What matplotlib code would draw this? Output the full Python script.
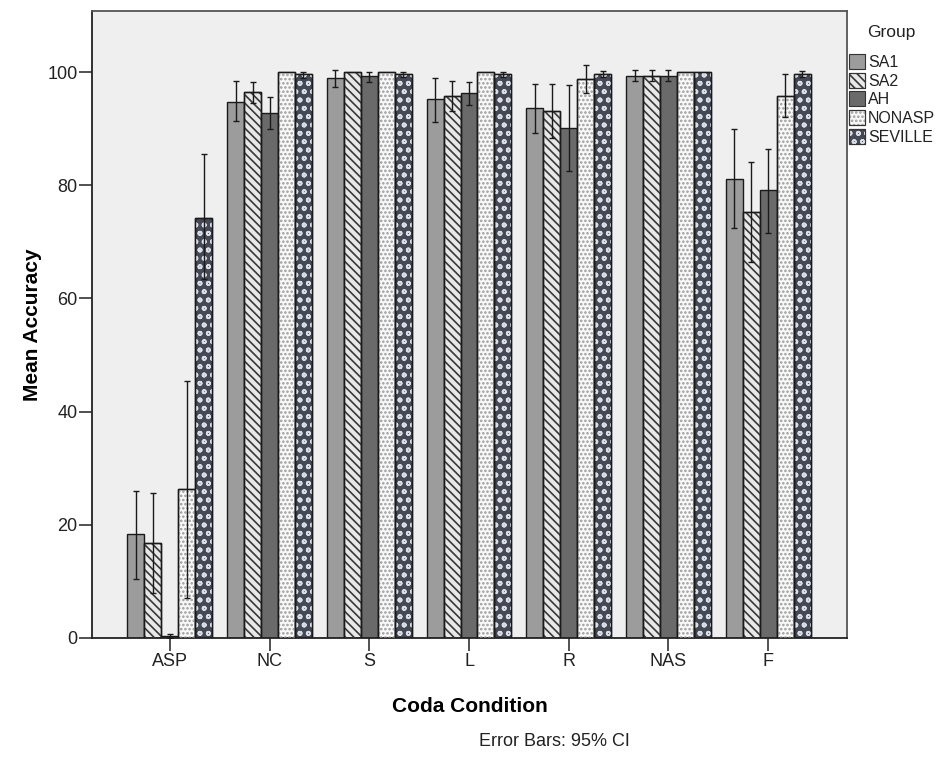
import numpy as np
import matplotlib
matplotlib.use("Agg")
import matplotlib.pyplot as plt
from matplotlib.patches import Patch
from matplotlib.legend_handler import HandlerTuple

plt.rcParams['font.family'] = ['Liberation Sans', 'DejaVu Sans']
plt.rcParams['hatch.linewidth'] = 1.2

conditions = ['ASP', 'NC', 'S', 'L', 'R', 'NAS', 'F']
groups = ['SA1', 'SA2', 'AH', 'NONASP', 'SEVILLE']

sa1 = [18.4, 94.7, 98.9, 95.2, 93.6, 99.3, 81.2]
sa1_lo = [10.4, 91.3, 97.4, 91.1, 89.2, 98.4, 72.5]
sa1_hi = [26.0, 98.4, 100.4, 98.9, 97.9, 100.4, 89.9]

sa2 = [16.8, 96.4, 100.0, 95.8, 93.1, 99.3, 75.2]
sa2_lo = [8.0, 94.5, np.nan, 93.1, 88.3, 98.4, 66.5]
sa2_hi = [25.7, 98.3, np.nan, 98.4, 97.9, 100.4, 84.1]

ah = [0.35, 92.7, 99.3, 96.3, 90.1, 99.3, 79.1]
ah_lo = [0.0, 89.9, 98.2, 94.2, 82.5, 98.4, 71.5]
ah_hi = [0.7, 95.6, 100.0, 98.2, 97.7, 100.4, 86.5]

nonasp = [26.4, 100.0, 100.0, 100.0, 98.8, 100.0, 95.8]
nonasp_lo = [7.1, np.nan, np.nan, np.nan, 96.3, np.nan, 92.0]
nonasp_hi = [45.5, np.nan, np.nan, np.nan, 101.2, np.nan, 99.6]

seville = [74.2, 99.6, 99.6, 99.6, 99.6, 100.0, 99.6]
seville_lo = [63.5, 98.9, 99.1, 99.1, 99.1, np.nan, 99.1]
seville_hi = [85.5, 100.0, 100.0, 100.0, 100.2, np.nan, 100.2]

means = [sa1, sa2, ah, nonasp, seville]
lows = [sa1_lo, sa2_lo, ah_lo, nonasp_lo, seville_lo]
highs = [sa1_hi, sa2_hi, ah_hi, nonasp_hi, seville_hi]

# style per group: facecolor, hatch, hatch color
styles = [
    ('#9c9c9c', None, None),
    ('#e8e8e8', '\\\\\\\\', '#383838'),
    ('#6a6a6a', None, None),
    ('#f8f8f8', '....', '#9a9a9a'),
    ('#444955', 'oo', '#dadde6'),
]

fig = plt.figure(figsize=(9.36, 7.6), dpi=100)
ax = fig.add_axes([92/936, 1-638/760, (847-92)/936, (638-11)/760])
ax.set_facecolor('#efefef')

x = np.arange(len(conditions))
bw = 0.17
handles = []
for i, g in enumerate(groups):
    fc, h, hc = styles[i]
    pos = x + (i - 2) * bw
    ax.bar(pos, means[i], width=bw, color=fc, edgecolor='#1a1a1a', linewidth=1.0, zorder=2)
    base = Patch(facecolor=fc, edgecolor='#333333', linewidth=0.8)
    if h:
        ax.bar(pos, means[i], width=bw, fill=False, hatch=h, edgecolor=hc, linewidth=0, zorder=3)
        ax.bar(pos, means[i], width=bw, fill=False, edgecolor='#1a1a1a', linewidth=1.0, zorder=4)
        over = Patch(facecolor='none', hatch=h, edgecolor=hc, linewidth=0)
        border = Patch(facecolor='none', edgecolor='#333333', linewidth=0.8)
        handles.append((base, over, border))
    else:
        handles.append((base,))
    m = np.array(means[i])
    lo = np.array(lows[i])
    hi = np.array(highs[i])
    ax.errorbar(pos, m, yerr=[m - lo, hi - m], fmt='none', ecolor='#1a1a1a',
                elinewidth=1.0, capsize=2.3, capthick=1.0, zorder=5)

ax.set_xlim(-0.78, 6.79)
ax.set_ylim(0, 110.8)
ax.set_xticks(x)
ax.set_xticklabels(conditions, fontsize=13)
ax.set_yticks([0, 20, 40, 60, 80, 100])
ax.set_yticklabels(['0', '20', '40', '60', '80', '100'], fontsize=13)
ax.tick_params(axis='both', length=9.5, width=1.2, color='#333333', pad=1, labelcolor='#222222')

for s in ['left', 'bottom']:
    ax.spines[s].set_color('#222222')
    ax.spines[s].set_linewidth(1.3)
for s in ['top', 'right']:
    ax.spines[s].set_color('#555555')
    ax.spines[s].set_linewidth(1.3)

ax.set_xlabel('Coda Condition', fontsize=15, fontweight='bold', labelpad=20)
ax.set_ylabel('Mean Accuracy', fontsize=15, fontweight='bold', labelpad=4)

fig.text(554/936, 1-742/760, 'Error Bars: 95% CI', fontsize=13, ha='center', va='center', color='#222222')

fig.text(867/936, 1-32/760, 'Group', fontsize=12.5, ha='left', va='center', color='#222222')
leg = fig.legend(handles, groups, handler_map={tuple: HandlerTuple(ndivide=1)},
                 loc='upper left', bbox_to_anchor=(849/936, 1-54/760), frameon=False,
                 fontsize=11.5, handlelength=1.0, labelcolor='#222222',
                 handleheight=1.05, handletextpad=0.2, labelspacing=0.18, borderpad=0,
                 borderaxespad=0)

fig.savefig('out.png', dpi=100)
